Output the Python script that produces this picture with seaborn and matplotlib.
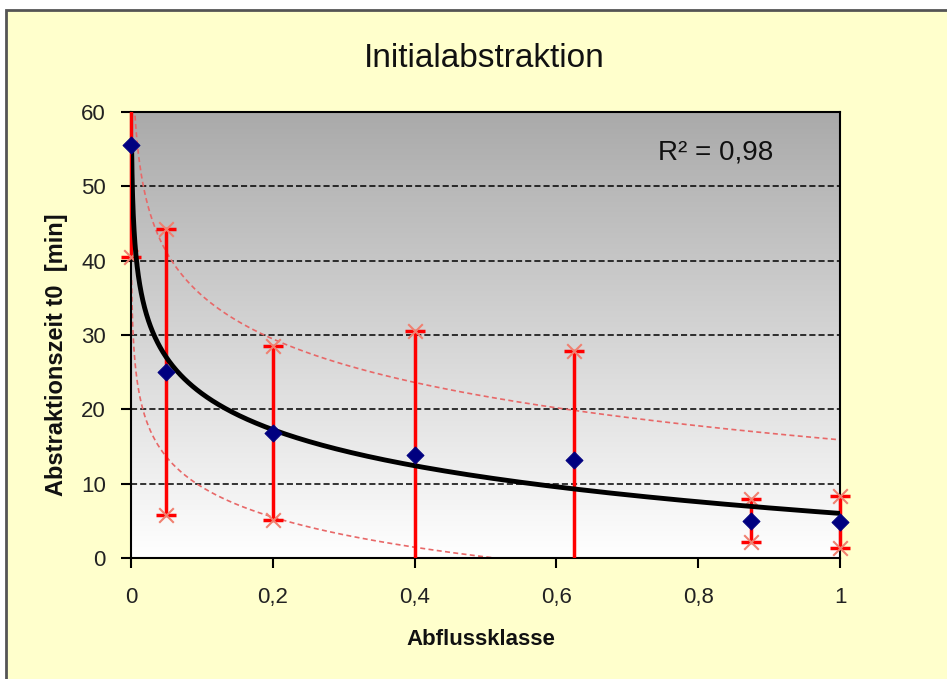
import numpy as np
import matplotlib
matplotlib.use("Agg")
import matplotlib.pyplot as plt
from matplotlib.colors import LinearSegmentedColormap
from matplotlib.patches import Rectangle
import seaborn as sns

# data
abfluss_klasse = [0.0, 0.05, 0.2, 0.4, 0.625, 0.875, 1.0]
abstraktionszeit = [55.5, 25.0, 16.8, 13.8, 13.2, 5.0, 4.8]
fehler = [15.0, 19.2, 11.7, 16.7, 14.6, 2.9, 3.5]

# log trendline y = a + b*ln(x) and its bands
trend_a, trend_b = 6.0, -7.0
upper_a, upper_b = 15.9, -8.43
lower_a, lower_b = -3.9, -5.84
r2_text = "R² = 0,98"

sns.set_style("ticks")
plt.rcParams['font.family'] = ['Liberation Sans', 'DejaVu Sans']

fig = plt.figure(figsize=(9.47, 6.79), dpi=100)
fig.patch.set_facecolor("white")
frame = Rectangle((6 / 947, -0.1), 1.2, 1 - 10 / 679 + 0.1,
                  transform=fig.transFigure, facecolor="#FFFFCC",
                  edgecolor="#555555", linewidth=2, zorder=-5)
fig.add_artist(frame)

ax = fig.add_axes([131 / 947, 1 - 558 / 679, 709 / 947, 446 / 679])
ax.set_zorder(2)

# gray-to-white gradient of the plot area
grad = LinearSegmentedColormap.from_list("g", ["#aaaaaa", "#ffffff"])
ax.imshow(np.linspace(0, 1, 256).reshape(-1, 1), cmap=grad, extent=[0, 1, 0, 60],
          aspect="auto", origin="upper", zorder=0)

for yv in range(10, 60, 10):
    ax.axhline(yv, color="black", lw=1.1, ls=(0, (4, 2)), zorder=1)

xs = np.geomspace(0.00085, 1, 400)
sns.lineplot(x=xs, y=upper_a + upper_b * np.log(xs), ax=ax, color="#e86868",
             lw=1.2, ls=(0, (3, 2)), zorder=2)
sns.lineplot(x=xs, y=lower_a + lower_b * np.log(xs), ax=ax, color="#e86868",
             lw=1.2, ls=(0, (3, 2)), zorder=2)

# error bars with asterisk caps, clipped only at top/bottom
clip = Rectangle((-0.05, 0), 1.1, 1, transform=ax.transAxes, visible=False)
ax.add_patch(clip)
eb = ax.errorbar(abfluss_klasse, abstraktionszeit, yerr=fehler, fmt="none",
                 ecolor="#ff0000", elinewidth=2.5, capsize=7, capthick=2.5, zorder=3)
lo = np.array(abstraktionszeit) - np.array(fehler)
hi = np.array(abstraktionszeit) + np.array(fehler)
stars = ax.scatter(abfluss_klasse + abfluss_klasse, list(lo) + list(hi), marker="x",
                   s=110, color="#f08070", linewidths=1.5, zorder=3)
for art in list(eb.lines[1]) + list(eb.lines[2]) + [stars]:
    art.set_clip_path(clip)

sns.lineplot(x=xs, y=trend_a + trend_b * np.log(xs), ax=ax, color="black",
             lw=3.5, zorder=4)

sns.scatterplot(x=abfluss_klasse, y=abstraktionszeit, ax=ax, marker="D", s=75,
                color="#000080", edgecolor="#000080", zorder=5, clip_on=False)

ax.set_xlim(0, 1)
ax.set_ylim(0, 60)
ax.set_xticks([0, 0.2, 0.4, 0.6, 0.8, 1.0])
ax.set_xticklabels(["0", "0,2", "0,4", "0,6", "0,8", "1"])
ax.set_yticks(range(0, 61, 10))
for s in ax.spines.values():
    s.set_color("black")
    s.set_linewidth(1.5)
    s.set_visible(True)
ax.tick_params(axis="both", direction="out", length=7, width=1.5,
               labelsize=16, colors="black", labelcolor="#222222")
ax.tick_params(axis="x", pad=14)
ax.tick_params(axis="y", pad=11)

ax.text(0.825, 53.6, r2_text, ha="center", va="baseline", fontsize=20, color="#111111")

fig.text(484 / 947, 1 - 67 / 679, "Initialabstraktion", ha="center", va="baseline",
         fontsize=24, color="#111111")
fig.text(481 / 947, 1 - 645 / 679, "Abflussklasse", ha="center", va="baseline",
         fontsize=16, fontweight="bold", color="#111111")
fig.text(57 / 947, 1 - 355 / 679, "Abstraktionszeit t0  [min]", ha="center",
         va="center", rotation=90, fontsize=17, fontweight="bold", color="#111111")

fig.savefig("out.png", dpi=100)
